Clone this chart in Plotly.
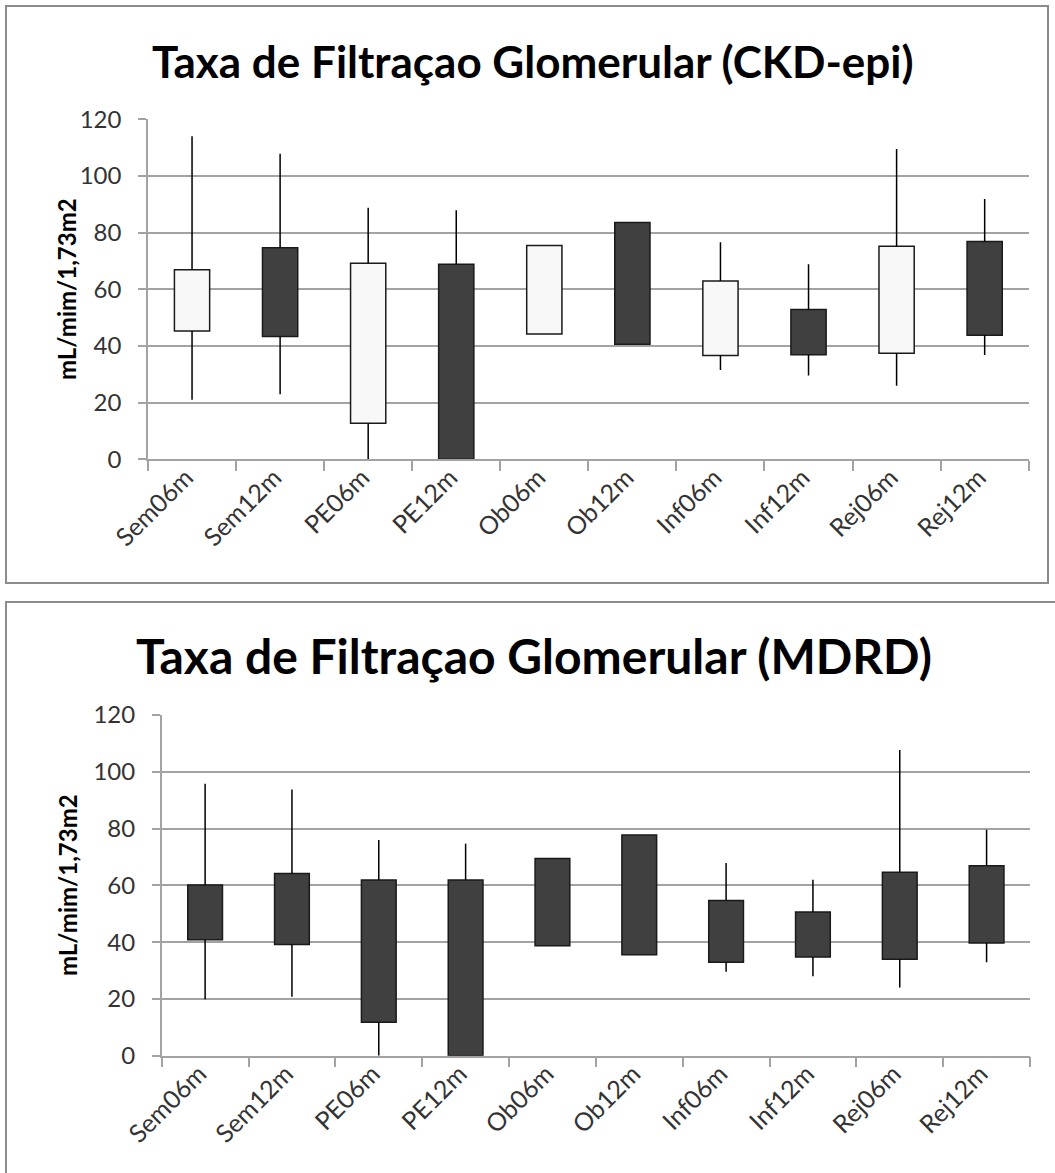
import plotly.graph_objects as go

categories = ["Sem06m", "Sem12m", "PE06m", "PE12m", "Ob06m", "Ob12m",
              "Inf06m", "Inf12m", "Rej06m", "Rej12m"]

# CKD-epi (top chart)
ckd_low = [21, 23, 0, 0, 44.2, 40.6, 31.5, 29.6, 26, 36.8]
ckd_q1 = [45.3, 43.3, 12.7, 0, 44.2, 40.6, 36.6, 36.9, 37.4, 43.8]
ckd_q3 = [66.9, 74.7, 69.2, 68.8, 75.5, 83.6, 62.9, 52.9, 75.2, 76.9]
ckd_high = [114, 107.8, 88.8, 87.9, 75.5, 83.6, 76.6, 68.8, 109.5, 91.9]

# MDRD (bottom chart)
mdrd_low = [19.9, 20.8, 0, 0, 38.7, 35.6, 29.6, 28.0, 24.0, 32.9]
mdrd_q1 = [40.8, 39.2, 11.8, 0, 38.7, 35.6, 32.9, 34.8, 34.0, 39.7]
mdrd_q3 = [60.1, 64.2, 61.9, 61.9, 69.5, 77.7, 54.7, 50.6, 64.6, 66.9]
mdrd_high = [95.8, 93.8, 76.0, 74.7, 69.5, 77.7, 67.9, 62.0, 107.7, 79.6]

ckd_colors = ["#f8f8f8", "#404040"] * 5
mdrd_colors = ["#404040"] * 10

W, H = 1055, 1173
GRID = "#a3a3a3"
FONT = "Lato"


def px_x(p):
    return p / W


def px_y(p):
    return 1 - p / H


def whisker_xy(low, q1, q3, high):
    xs, ys = [], []
    for c, lo, a, b, hi in zip(categories, low, q1, q3, high):
        xs += [c, c, None, c, c, None]
        ys += [b, hi, None, lo, a, None]
    return xs, ys


fig = go.Figure()

for (low, q1, q3, high, cols, xa, ya) in [
    (ckd_low, ckd_q1, ckd_q3, ckd_high, ckd_colors, "x", "y"),
    (mdrd_low, mdrd_q1, mdrd_q3, mdrd_high, mdrd_colors, "x2", "y2"),
]:
    wx, wy = whisker_xy(low, q1, q3, high)
    fig.add_trace(go.Scatter(x=wx, y=wy, mode="lines", xaxis=xa, yaxis=ya,
                             line=dict(color="#000000", width=1.5),
                             hoverinfo="skip", showlegend=False))
    fig.add_trace(go.Bar(x=categories, y=[b - a for a, b in zip(q1, q3)], base=q1,
                         xaxis=xa, yaxis=ya, width=0.4,
                         marker=dict(color=cols, line=dict(color="#1a1a1a", width=1.5)),
                         showlegend=False))

yax = dict(range=[0, 120], dtick=20, showgrid=True, gridcolor=GRID, gridwidth=1.5,
           showline=True, linecolor=GRID, linewidth=1.5, ticks="outside", ticklen=8,
           tickcolor=GRID, tickwidth=1.5, tickfont=dict(family=FONT, size=24, color="#333333"),
           zeroline=False, automargin=False, ticklabelstandoff=12, fixedrange=True)
xax = dict(type="category", range=[-0.5, 9.5], tickson="boundaries", ticks="outside",
           ticklen=10, tickcolor=GRID, tickwidth=1.5, showline=True, linecolor=GRID,
           linewidth=1.5, showgrid=False, tickangle=-45, zeroline=False,
           tickfont=dict(family=FONT, size=25, color="#333333"), automargin=False,
           ticklabelshift=-6, ticklabelstandoff=-8, fixedrange=True)

fig.update_layout(
    width=W, height=H, template="none",
    margin=dict(l=0, r=0, t=0, b=0, pad=0),
    paper_bgcolor="white", plot_bgcolor="white",
    barmode="overlay", showlegend=False,
    xaxis=dict(xax, domain=[px_x(148), px_x(1028.7)], anchor="y"),
    yaxis=dict(yax, domain=[px_y(459.3), px_y(119.3)], anchor="x"),
    xaxis2=dict(xax, domain=[px_x(161.7), px_x(1030)], anchor="y2"),
    yaxis2=dict(yax, domain=[px_y(1055.7), px_y(715)], anchor="x2"),
    shapes=[
        dict(type="rect", xref="paper", yref="paper", x0=px_x(6), x1=px_x(1048),
             y0=px_y(583), y1=px_y(6), line=dict(color="#8c8c8c", width=2), layer="below"),
        dict(type="rect", xref="paper", yref="paper", x0=px_x(6), x1=px_x(1070),
             y0=px_y(1190), y1=px_y(602), line=dict(color="#8c8c8c", width=2), layer="below"),
    ],
    annotations=[
        dict(text="<b>Taxa de Filtraçao Glomerular (CKD-epi)</b>", xref="paper", yref="paper",
             x=px_x(533), y=px_y(61), xanchor="center", yanchor="middle", showarrow=False,
             font=dict(family=FONT, size=44, color="#000000")),
        dict(text="<b>Taxa de Filtraçao Glomerular (MDRD)</b>", xref="paper", yref="paper",
             x=px_x(534), y=px_y(655), xanchor="center", yanchor="middle", showarrow=False,
             font=dict(family=FONT, size=48, color="#000000")),
        dict(text="<b>mL/mim/1,73m2</b>", xref="paper", yref="paper", textangle=-90,
             x=px_x(66), y=px_y(289), xanchor="center", yanchor="middle", showarrow=False,
             font=dict(family=FONT, size=24, color="#000000")),
        dict(text="<b>mL/mim/1,73m2</b>", xref="paper", yref="paper", textangle=-90,
             x=px_x(67), y=px_y(885), xanchor="center", yanchor="middle", showarrow=False,
             font=dict(family=FONT, size=24, color="#000000")),
    ],
)

fig.write_html("out.html", config={"displayModeBar": False},
               post_script="document.body.style.margin='0';")
